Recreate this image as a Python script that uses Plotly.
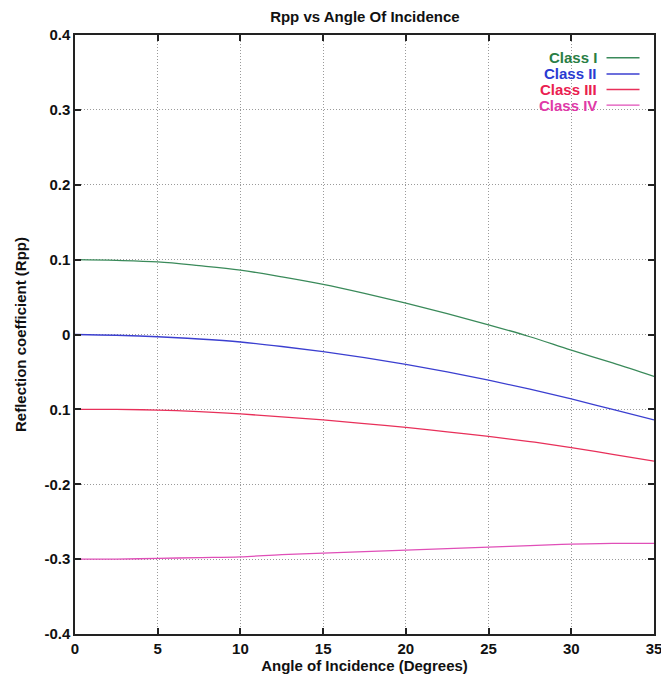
import plotly.graph_objects as go

angles = [0, 2.5, 5, 7.5, 10, 12.5, 15, 17.5, 20, 22.5, 25, 27.5, 30, 32.5, 35]
class_1 = [0.100, 0.099, 0.097, 0.092, 0.086, 0.077, 0.067, 0.055, 0.042, 0.028, 0.013, -0.003, -0.021, -0.038, -0.056]
class_2 = [0.000, -0.001, -0.003, -0.006, -0.010, -0.016, -0.023, -0.031, -0.040, -0.050, -0.061, -0.073, -0.086, -0.100, -0.114]
class_3 = [-0.100, -0.100, -0.101, -0.103, -0.106, -0.110, -0.114, -0.119, -0.124, -0.130, -0.136, -0.143, -0.151, -0.160, -0.169]
class_4 = [-0.300, -0.300, -0.299, -0.298, -0.297, -0.294, -0.292, -0.290, -0.288, -0.286, -0.284, -0.282, -0.280, -0.279, -0.279]

series_names = ["Class I", "Class II", "Class III", "Class IV"]
series_values = [class_1, class_2, class_3, class_4]
line_colors = ["#3a8a5a", "#3b3fd0", "#e8305a", "#e04fb8"]
text_colors = ["#2a7e45", "#2a3ad2", "#ea2050", "#e03aa8"]

x_ticks = [0, 5, 10, 15, 20, 25, 30, 35]
y_tickvals = [0.4, 0.3, 0.2, 0.1, 0, -0.1, -0.2, -0.3, -0.4]
y_ticktext = ["0.4", "0.3", "0.2", "0.1", "0", "0.1", "-0.2", "-0.3", "-0.4"]

FONT = "Liberation Sans, Arial, sans-serif"

fig = go.Figure()
for name, vals, col in zip(series_names, series_values, line_colors):
    fig.add_trace(go.Scatter(x=angles, y=vals, mode="lines", name=name,
                             line=dict(color=col, width=1.3, shape="spline"),
                             showlegend=False))

# legend drawn as right-aligned text with sample line to the right
leg_y = [0.962, 0.935, 0.909, 0.883]
for name, tcol, lcol, yy in zip(series_names, text_colors, line_colors, leg_y):
    fig.add_annotation(xref="paper", yref="paper", x=0.905, y=yy, text=name,
                       showarrow=False, xanchor="right", yanchor="middle",
                       font=dict(family=FONT, size=15, color=tcol, weight="bold"))
    fig.add_shape(type="line", xref="paper", yref="paper", x0=0.918, x1=0.975,
                  y0=yy, y1=yy, line=dict(color=lcol, width=1.4))

axis_common = dict(showline=True, linecolor="#222", linewidth=1.5, mirror="allticks",
                   ticks="inside", ticklen=6, tickcolor="#222", tickwidth=1.5,
                   showgrid=True, gridcolor="#9a9a9a", griddash="1px,2px", gridwidth=1.2,
                   zeroline=False, automargin=False, ticklabeloverflow="allow",
                   tickfont=dict(family=FONT, size=15, color="#111", weight="bold"))

fig.update_xaxes(range=[0, 35], tickvals=x_ticks, **axis_common,
                 title=dict(text="Angle of Incidence (Degrees)", standoff=0,
                            font=dict(family=FONT, size=15, color="#111", weight="bold")))
fig.update_yaxes(range=[-0.4, 0.4], tickvals=y_tickvals, ticktext=y_ticktext, **axis_common,
                 title=dict(text="Reflection coefficient (Rpp)", standoff=14,
                            font=dict(family=FONT, size=15, color="#111", weight="bold")))

fig.update_layout(
    width=661, height=677,
    margin=dict(l=75, r=7, t=35, b=43),
    paper_bgcolor="white", plot_bgcolor="white",
    title=dict(text="Rpp vs Angle Of Incidence", x=0.552, xanchor="center", y=0.975, yanchor="middle",
               font=dict(family=FONT, size=15, color="#111", weight="bold")),
)

fig.write_html("out.html")
